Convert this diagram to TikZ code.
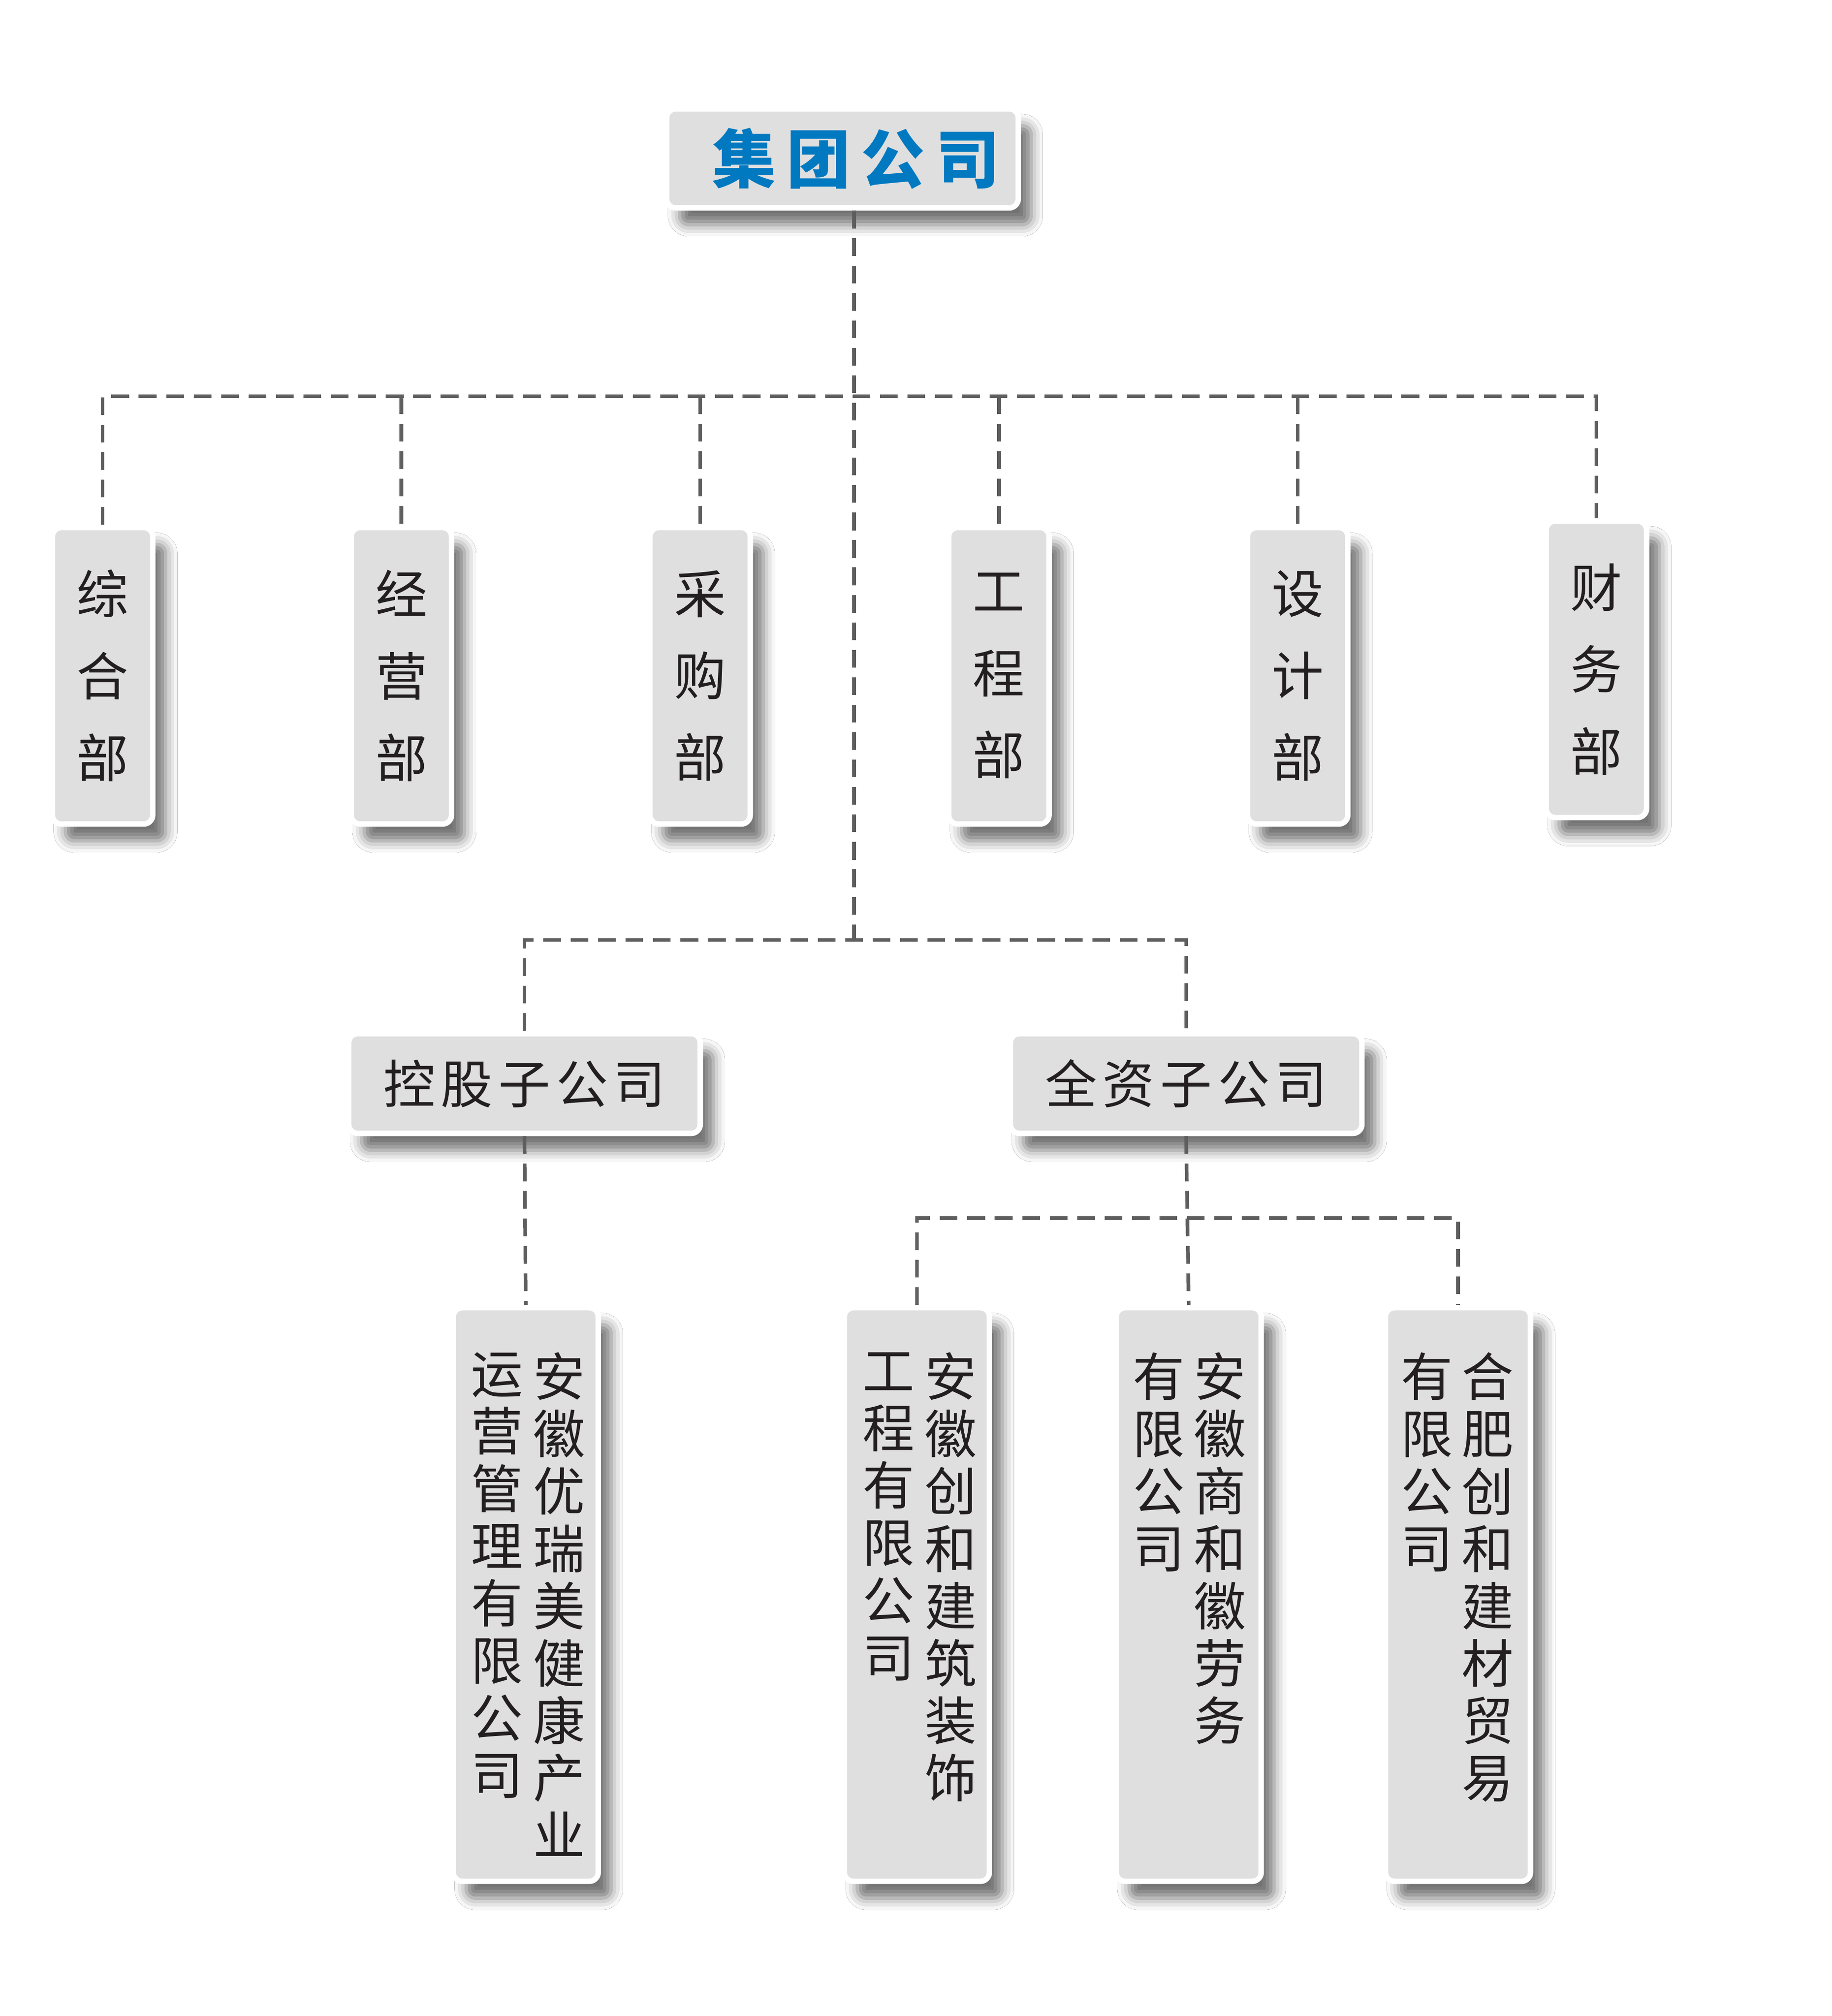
\documentclass[tikz,border=0pt]{standalone}
\usepackage{fontspec}
\newfontfamily\cjk{Noto Sans CJK SC}
\usetikzlibrary{positioning,shadows.blur}
\definecolor{boxgray}{HTML}{DFDFDF}
\definecolor{linegray}{HTML}{5E5E5E}
\definecolor{titleblue}{HTML}{0079C1}
\definecolor{inkblack}{HTML}{231F20}

\begin{document}
\begin{tikzpicture}[x=0.0099cm, y=-0.0099cm,
                    node distance=1.49cm,
                    card/.style={rectangle, rounded corners=0.07cm, fill=boxgray,
                                 draw=white, line width=1.2pt, inner sep=0pt,
                                 blur shadow={shadow xshift=0.1cm, shadow yshift=-0.13cm,
                                              shadow blur radius=0.09cm, shadow opacity=55},
                                 text=inkblack, align=center},
                    dept/.style={card, minimum width=0.775cm, minimum height=2.29cm,
                                 font=\cjk\fontsize{11.4}{18}\selectfont},
                    head/.style={card, minimum width=2.715cm, minimum height=0.77cm,
                                 font=\cjk\fontsize{11.4}{14}\selectfont},
                    firm/.style={card, minimum width=1.12cm, minimum height=4.43cm},
                    col/.style={inner sep=0pt, text=inkblack, align=center,
                                font=\cjk\fontsize{11.4}{12.6}\selectfont},
                    link/.style={draw=linegray, line width=0.8pt,
                                 dash pattern=on 0.137cm off 0.075cm}]

  \path[use as bounding box, fill=white] (0,0) rectangle (1428.3,1572.2);

  % top
  \node[head, text=titleblue, font=\cjk\bfseries\fontsize{14}{16}\selectfont, minimum height=0.765cm]
       (group) at (657,123.5) {\hspace{0.21cm}集\hspace{0.17em}团\hspace{0.17em}公\hspace{0.17em}司};

  % departments
  \node[dept] (d1) at (80,527) {综\\合\\部};
  \node[dept] (d2) [right=of d1] {经\\营\\部};
  \node[dept] (d3) [right=of d2] {采\\购\\部};
  \node[dept] (d4) [right=of d3] {工\\程\\部};
  \node[dept] (d5) [right=of d4] {设\\计\\部};
  \node[dept] (d6) [right=of d5, yshift=0.05cm] {财\\务\\部};

  % subsidiaries
  \node[head] (kg) at (409,845) {控\hspace{0.11em}股\hspace{0.11em}子\hspace{0.11em}公\hspace{0.11em}司};
  \node[head] (qz) at (925,845) {全\hspace{0.11em}资\hspace{0.11em}子\hspace{0.11em}公\hspace{0.11em}司};

  % companies
  \node[firm] (b1) at (410,1243.5) {};
  \node[firm] (b2) at (715,1243.5) {};
  \node[firm] (b3) at (927,1243.5) {};
  \node[firm] (b4) at (1137,1243.5) {};

  \node[col] (b1r) [below=0.36cm of b1.north, xshift=0.26cm] {安\\徽\\优\\瑞\\美\\健\\康\\产\\业};
  \node[col] (b1l) [below=0.36cm of b1.north, xshift=-0.22cm] {运\\营\\管\\理\\有\\限\\公\\司};
  \node[col] (b2r) [below=0.36cm of b2.north, xshift=0.26cm] {安\\徽\\创\\和\\建\\筑\\装\\饰};
  \node[col] (b2l) [below=0.36cm of b2.north, xshift=-0.22cm] {工\\程\\有\\限\\公\\司};
  \node[col] (b3r) [below=0.36cm of b3.north, xshift=0.24cm] {安\\徽\\商\\和\\徽\\劳\\务};
  \node[col] (b3l) [below=0.36cm of b3.north, xshift=-0.23cm] {有\\限\\公\\司};
  \node[col] (b4r) [below=0.36cm of b4.north, xshift=0.23cm] {合\\肥\\创\\和\\建\\材\\贸\\易};
  \node[col] (b4l) [below=0.36cm of b4.north, xshift=-0.24cm] {有\\限\\公\\司};

  \coordinate (bus) at (666,309);
  \coordinate (fork) at (666,733);
  \coordinate (fork2) at (927,950);

  \draw[link] (group.south -| fork) -- (fork);
  \draw[link] (d1.north) |- (bus) -| (d6.north);
  \draw[link] (d2.north |- bus) -- (d2.north);
  \draw[link] (d3.north |- bus) -- (d3.north);
  \draw[link] (d4.north |- bus) -- (d4.north);
  \draw[link] (d5.north |- bus) -- (d5.north);
  \draw[link] (kg.north) |- (fork) -| (qz.north);
  \draw[link] (kg.south) -- (b1.north);
  \draw[link] (qz.south) -- (b3.north);
  \draw[link] (b2.north) |- (fork2) -| (b4.north);
\end{tikzpicture}
\end{document}
